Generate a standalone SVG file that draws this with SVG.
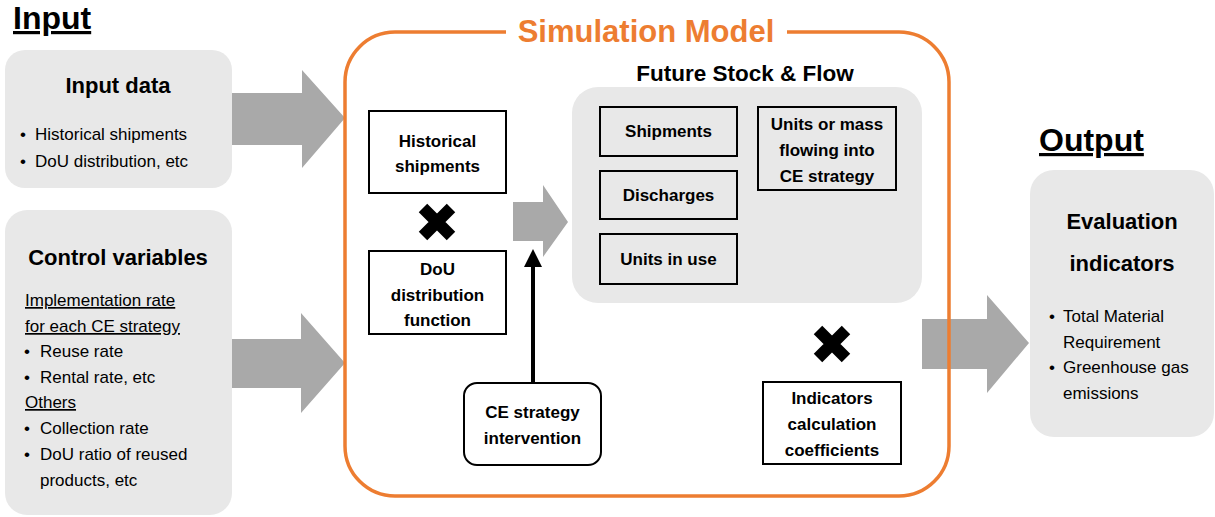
<svg xmlns="http://www.w3.org/2000/svg" width="1215" height="517" viewBox="0 0 1215 517">
<style>
text{font-family:"Liberation Sans",Arial,sans-serif;fill:#000}
.h{font-weight:bold;font-size:32px;text-decoration:underline}
.ht{font-weight:bold;font-size:22px}
.b{font-weight:bold;font-size:17px;text-anchor:middle}
.r{font-size:17px}
.u{text-decoration:underline}
.panel{fill:#e8e8e8}
.box{fill:#fff;stroke:#000;stroke-width:2}
.ibox{fill:none;stroke:#000;stroke-width:2}
.ga{fill:#a9a9a9}
.x{stroke:#000;stroke-width:12;fill:none}
</style>
<rect width="1215" height="517" fill="#fff"/>

<g id="input-title"><text class="h" x="13" y="29">Input</text></g>

<g id="input-data">
<rect class="panel" x="5" y="50" width="227" height="138" rx="20"/>
<text class="ht" x="118" y="93" text-anchor="middle">Input data</text>
<text class="r" x="20" y="140">•</text><text class="r" x="35" y="140">Historical shipments</text>
<text class="r" x="20" y="167">•</text><text class="r" x="35" y="167">DoU distribution, etc</text>
</g>

<g id="control-variables">
<rect class="panel" x="5" y="210" width="227" height="305" rx="22"/>
<text class="ht" x="118" y="265" text-anchor="middle">Control variables</text>
<text class="r u" x="25" y="306">Implementation rate</text>
<text class="r u" x="25" y="332">for each CE strategy</text>
<text class="r" x="24" y="357">•</text><text class="r" x="40" y="357">Reuse rate</text>
<text class="r" x="24" y="383">•</text><text class="r" x="40" y="383">Rental rate, etc</text>
<text class="r u" x="25" y="408">Others</text>
<text class="r" x="24" y="434">•</text><text class="r" x="40" y="434">Collection rate</text>
<text class="r" x="24" y="460">•</text><text class="r" x="40" y="460">DoU ratio of reused</text>
<text class="r" x="40" y="486">products, etc</text>
</g>

<g id="connectors">
<path class="ga" d="M232 93 H302 V70 L345 118 L302 168 V145 H232 Z"/>
<path class="ga" d="M232 339 H301 V313 L345 363 L301 413 V388 H232 Z"/>
<path class="ga" d="M513 202 H543 V185 L568 222 L543 257 V241 H513 Z"/>
<path class="ga" d="M922 319 H987 V295 L1029 343 L987 393 V369 H922 Z"/>
<line x1="533" y1="382" x2="533" y2="262" stroke="#000" stroke-width="4"/>
<path d="M533 249 L542 267 L524 267 Z" fill="#000"/>
</g>

<g id="simulation-model">
<path d="M506 32 H395 A50 50 0 0 0 345 82 V446 A50 50 0 0 0 395 496 H899 A50 50 0 0 0 949 446 V82 A50 50 0 0 0 899 32 H787" fill="none" stroke="#ED7D31" stroke-width="3.5"/>
<text x="646" y="42" text-anchor="middle" style="font-weight:bold;font-size:31px;fill:#ED7D31">Simulation Model</text>
</g>

<g id="future-stock-flow">
<text class="ht" x="745" y="81" text-anchor="middle" style="font-size:22.5px">Future Stock &amp; Flow</text>
<rect class="panel" x="572" y="87" width="350" height="216" rx="26"/>
</g>

<g id="shipments"><rect class="ibox" x="600" y="107" width="137" height="49"/><text class="b" x="668.5" y="137">Shipments</text></g>
<g id="discharges"><rect class="ibox" x="600" y="171" width="137" height="48"/><text class="b" x="668.5" y="201">Discharges</text></g>
<g id="units-in-use"><rect class="ibox" x="600" y="234" width="137" height="50"/><text class="b" x="668.5" y="265">Units in use</text></g>
<g id="units-or-mass"><rect class="ibox" x="758" y="107" width="138" height="83"/>
<text class="b" x="827" y="130">Units or mass</text><text class="b" x="827" y="156">flowing into</text><text class="b" x="827" y="182">CE strategy</text></g>

<g id="historical-shipments"><rect class="box" x="369" y="111" width="137" height="82"/>
<text class="b" x="437.5" y="147">Historical</text><text class="b" x="437.5" y="172">shipments</text></g>

<g id="times-1"><path class="x" d="M423 208 L451 236 M451 208 L423 236"/></g>

<g id="dou-distribution"><rect class="box" x="369" y="251" width="137" height="83"/>
<text class="b" x="437.5" y="275">DoU</text><text class="b" x="437.5" y="301">distribution</text><text class="b" x="437.5" y="326">function</text></g>

<g id="ce-strategy"><rect class="box" x="464" y="383" width="137" height="82" rx="13"/>
<text class="b" x="532.5" y="418">CE strategy</text><text class="b" x="532.5" y="444">intervention</text></g>

<g id="times-2"><path class="x" d="M818 330 L846 358 M846 330 L818 358"/></g>

<g id="indicators-coefficients"><rect class="box" x="763" y="382" width="138" height="82"/>
<text class="b" x="832" y="404">Indicators</text><text class="b" x="832" y="430">calculation</text><text class="b" x="832" y="456">coefficients</text></g>

<g id="output-title"><text class="h" x="1039" y="151">Output</text></g>

<g id="evaluation-indicators">
<rect class="panel" x="1030" y="170" width="184" height="267" rx="24"/>
<text class="ht" x="1122" y="229" text-anchor="middle">Evaluation</text>
<text class="ht" x="1122" y="271" text-anchor="middle">indicators</text>
<text class="r" x="1049" y="322">•</text><text class="r" x="1063" y="322">Total Material</text>
<text class="r" x="1063" y="348">Requirement</text>
<text class="r" x="1049" y="373">•</text><text class="r" x="1063" y="373">Greenhouse gas</text>
<text class="r" x="1063" y="399">emissions</text>
</g>
</svg>
